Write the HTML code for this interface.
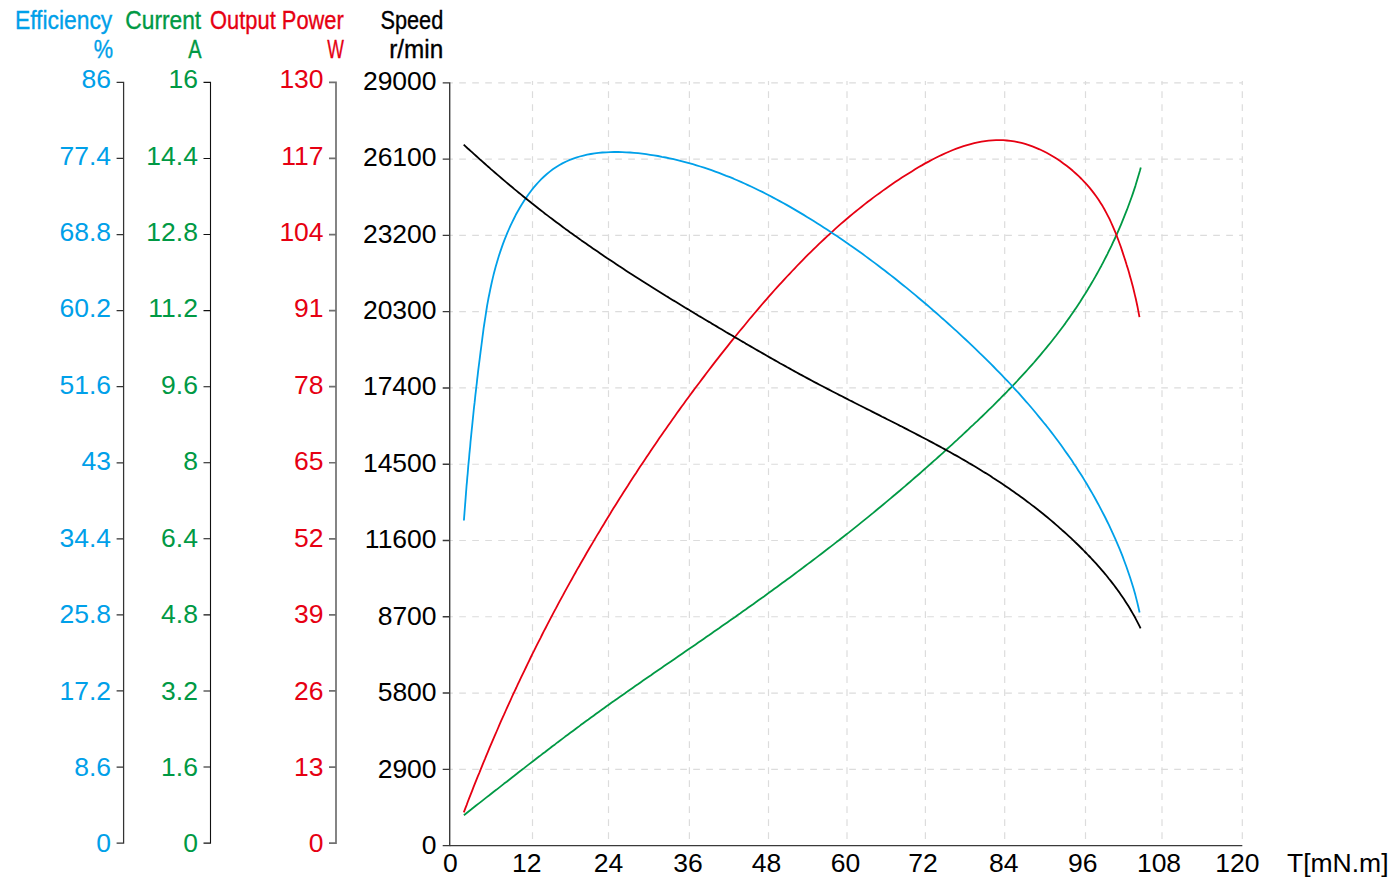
<!DOCTYPE html><html><head><meta charset="utf-8"><title>Motor characteristics</title><style>html,body{margin:0;padding:0;background:#fff;width:1396px;height:887px;overflow:hidden}svg{display:block}text{font-family:"Liberation Sans",sans-serif}</style></head><body>
<svg width="1396" height="887" viewBox="0 0 1396 887">
<path d="M446.2,769.33H1242.3 M446.2,693.05H1242.3 M446.2,616.77H1242.3 M446.2,540.50H1242.3 M446.2,464.23H1242.3 M446.2,387.95H1242.3 M446.2,311.67H1242.3 M446.2,235.40H1242.3 M446.2,159.12H1242.3 M446.2,82.85H1242.3" stroke="#dcdcdc" stroke-width="1.2" stroke-dasharray="6.7 6.3" fill="none"/>
<path d="M532.50,81.05V845.60 M608.50,81.05V845.60 M689.40,81.05V845.60 M768.50,81.05V845.60 M847.00,81.05V845.60 M925.40,81.05V845.60 M1004.70,81.05V845.60 M1085.50,81.05V845.60 M1162.00,81.05V845.60 M1242.30,81.05V845.60" stroke="#dcdcdc" stroke-width="1.2" stroke-dasharray="6.7 6.3" stroke-dashoffset="2.8" fill="none"/>
<rect x="440" y="70" width="9" height="790" fill="#fff"/>
<path d="M463.9,815.2 L466.4,813.2 L468.9,811.2 L471.4,809.3 L473.9,807.3 L476.4,805.3 L478.9,803.4 L481.5,801.4 L484.0,799.4 L486.5,797.4 L489.0,795.5 L491.5,793.5 L494.0,791.5 L496.6,789.6 L499.1,787.6 L501.6,785.6 L504.1,783.6 L506.7,781.7 L509.2,779.7 L511.7,777.7 L514.3,775.7 L516.8,773.8 L519.3,771.8 L521.9,769.8 L524.4,767.9 L526.9,765.9 L529.5,763.9 L532.0,762.0 L534.6,760.0 L537.1,758.0 L539.7,756.1 L542.2,754.1 L544.8,752.2 L547.3,750.2 L549.9,748.3 L552.4,746.3 L555.0,744.4 L557.5,742.4 L560.1,740.5 L562.6,738.6 L565.2,736.6 L567.8,734.7 L570.3,732.8 L572.9,730.9 L575.5,729.0 L578.1,727.1 L580.6,725.1 L583.2,723.2 L585.8,721.3 L588.4,719.5 L591.0,717.6 L593.6,715.7 L596.1,713.8 L598.7,711.9 L601.3,710.1 L603.9,708.2 L606.5,706.3 L609.1,704.5 L611.7,702.6 L614.3,700.8 L616.9,698.9 L619.6,697.1 L622.2,695.2 L624.8,693.4 L627.4,691.6 L630.0,689.7 L632.6,687.9 L635.2,686.1 L637.9,684.3 L640.5,682.4 L643.1,680.6 L645.7,678.8 L648.3,677.0 L651.0,675.2 L653.6,673.3 L656.2,671.5 L658.8,669.7 L661.5,667.9 L664.1,666.1 L666.7,664.3 L669.4,662.5 L672.0,660.7 L674.6,658.9 L677.3,657.1 L679.9,655.2 L682.5,653.4 L685.2,651.6 L687.8,649.8 L690.4,648.0 L693.1,646.2 L695.7,644.4 L698.3,642.6 L701.0,640.7 L703.6,638.9 L706.2,637.1 L708.9,635.3 L711.5,633.4 L714.1,631.6 L716.8,629.8 L719.4,628.0 L722.0,626.1 L724.6,624.3 L727.3,622.4 L729.9,620.6 L732.5,618.7 L735.2,616.9 L737.8,615.0 L740.4,613.2 L743.0,611.3 L745.7,609.5 L748.3,607.6 L750.9,605.7 L753.5,603.9 L756.1,602.0 L758.8,600.1 L761.4,598.2 L764.0,596.4 L766.6,594.5 L769.2,592.6 L771.8,590.7 L774.4,588.8 L777.0,586.9 L779.6,585.0 L782.2,583.1 L784.8,581.2 L787.4,579.3 L790.0,577.4 L792.6,575.5 L795.2,573.5 L797.7,571.6 L800.3,569.7 L802.9,567.8 L805.5,565.8 L808.0,563.9 L810.6,562.0 L813.2,560.0 L815.7,558.1 L818.3,556.1 L820.8,554.2 L823.4,552.2 L825.9,550.3 L828.5,548.3 L831.0,546.4 L833.6,544.4 L836.1,542.4 L838.6,540.5 L841.1,538.5 L843.7,536.5 L846.2,534.5 L848.7,532.6 L851.2,530.6 L853.7,528.6 L856.2,526.6 L858.7,524.6 L861.1,522.6 L863.6,520.6 L866.1,518.6 L868.6,516.6 L871.0,514.6 L873.5,512.6 L876.0,510.5 L878.4,508.5 L880.9,506.5 L883.3,504.5 L885.8,502.4 L888.2,500.4 L890.6,498.4 L893.1,496.3 L895.5,494.3 L897.9,492.2 L900.3,490.2 L902.7,488.1 L905.1,486.1 L907.5,484.0 L909.9,482.0 L912.3,479.9 L914.7,477.8 L917.1,475.8 L919.5,473.7 L921.8,471.6 L924.2,469.5 L926.6,467.4 L928.9,465.4 L931.3,463.3 L933.6,461.2 L936.0,459.1 L938.3,457.0 L940.7,454.9 L943.0,452.8 L945.3,450.7 L947.6,448.5 L950.0,446.4 L952.3,444.3 L954.6,442.2 L956.9,440.1 L959.2,437.9 L961.5,435.8 L963.8,433.7 L966.1,431.5 L968.4,429.4 L970.6,427.2 L972.9,425.1 L975.2,422.9 L977.5,420.8 L979.7,418.6 L982.0,416.5 L984.2,414.3 L986.5,412.1 L988.7,409.9 L990.9,407.8 L993.2,405.6 L995.4,403.4 L997.6,401.2 L999.8,399.0 L1002.0,396.7 L1004.2,394.5 L1006.4,392.3 L1008.5,390.0 L1010.7,387.8 L1012.9,385.5 L1015.0,383.3 L1017.2,381.0 L1019.3,378.7 L1021.4,376.4 L1023.5,374.1 L1025.6,371.8 L1027.7,369.5 L1029.8,367.2 L1031.9,364.8 L1034.0,362.5 L1036.0,360.1 L1038.1,357.7 L1040.1,355.3 L1042.1,352.9 L1044.1,350.5 L1046.1,348.1 L1048.1,345.7 L1050.1,343.2 L1052.1,340.7 L1054.0,338.3 L1056.0,335.8 L1057.9,333.3 L1059.8,330.7 L1061.7,328.2 L1063.6,325.7 L1065.5,323.1 L1067.3,320.5 L1069.2,317.9 L1071.0,315.3 L1072.8,312.7 L1074.6,310.0 L1076.4,307.4 L1078.2,304.7 L1080.0,302.0 L1081.7,299.3 L1083.4,296.5 L1085.2,293.8 L1086.9,291.1 L1088.5,288.3 L1090.2,285.5 L1091.8,282.7 L1093.5,279.9 L1095.1,277.1 L1096.7,274.3 L1098.3,271.4 L1099.8,268.6 L1101.4,265.7 L1102.9,262.8 L1104.4,259.9 L1105.9,257.0 L1107.4,254.1 L1108.8,251.2 L1110.2,248.3 L1111.7,245.4 L1113.0,242.4 L1114.4,239.5 L1115.8,236.5 L1117.1,233.6 L1118.4,230.6 L1119.7,227.6 L1121.0,224.6 L1122.2,221.7 L1123.4,218.7 L1124.6,215.7 L1125.8,212.7 L1127.0,209.7 L1128.1,206.7 L1129.2,203.7 L1130.3,200.7 L1131.4,197.7 L1132.5,194.6 L1133.5,191.6 L1134.5,188.6 L1135.5,185.6 L1136.4,182.6 L1137.3,179.6 L1138.2,176.5 L1139.1,173.5 L1140.0,170.5 L1140.8,167.5" stroke="#009944" stroke-width="1.80" fill="none" stroke-linejoin="round"/>
<path d="M463.8,812.3 L465.2,808.7 L466.6,805.1 L467.9,801.5 L469.3,797.9 L470.7,794.4 L472.1,790.8 L473.5,787.2 L474.9,783.7 L476.3,780.1 L477.7,776.6 L479.2,773.1 L480.6,769.6 L482.0,766.1 L483.4,762.6 L484.9,759.1 L486.3,755.6 L487.8,752.1 L489.2,748.7 L490.7,745.2 L492.1,741.8 L493.6,738.3 L495.1,734.9 L496.6,731.5 L498.1,728.0 L499.5,724.6 L501.0,721.2 L502.5,717.8 L504.1,714.4 L505.6,711.0 L507.1,707.6 L508.6,704.3 L510.2,700.9 L511.7,697.5 L513.2,694.2 L514.8,690.8 L516.4,687.5 L517.9,684.1 L519.5,680.8 L521.1,677.4 L522.7,674.1 L524.3,670.8 L525.9,667.5 L527.5,664.2 L529.1,660.8 L530.7,657.5 L532.3,654.2 L534.0,650.9 L535.6,647.6 L537.2,644.4 L538.9,641.1 L540.6,637.8 L542.2,634.5 L543.9,631.2 L545.6,628.0 L547.3,624.7 L549.0,621.4 L550.7,618.2 L552.4,614.9 L554.1,611.6 L555.9,608.4 L557.6,605.1 L559.3,601.9 L561.1,598.6 L562.9,595.4 L564.6,592.1 L566.4,588.9 L568.2,585.6 L570.0,582.4 L571.8,579.2 L573.6,575.9 L575.4,572.7 L577.2,569.4 L579.1,566.2 L580.9,563.0 L582.8,559.7 L584.7,556.5 L586.5,553.3 L588.4,550.0 L590.3,546.8 L592.2,543.6 L594.1,540.4 L596.0,537.1 L597.9,533.9 L599.9,530.7 L601.8,527.4 L603.8,524.2 L605.7,521.0 L607.7,517.8 L609.7,514.6 L611.6,511.3 L613.6,508.1 L615.6,504.9 L617.6,501.7 L619.6,498.5 L621.7,495.3 L623.7,492.1 L625.7,488.9 L627.8,485.7 L629.8,482.5 L631.9,479.3 L634.0,476.1 L636.1,472.9 L638.1,469.7 L640.2,466.6 L642.3,463.4 L644.5,460.2 L646.6,457.0 L648.7,453.9 L650.8,450.7 L653.0,447.5 L655.1,444.4 L657.3,441.2 L659.4,438.1 L661.6,434.9 L663.8,431.8 L666.0,428.7 L668.2,425.5 L670.4,422.4 L672.6,419.3 L674.8,416.2 L677.0,413.0 L679.3,409.9 L681.5,406.8 L683.8,403.7 L686.0,400.6 L688.3,397.5 L690.5,394.5 L692.8,391.4 L695.1,388.3 L697.4,385.2 L699.7,382.2 L702.0,379.1 L704.3,376.1 L706.6,373.0 L708.9,370.0 L711.3,366.9 L713.6,363.9 L715.9,360.9 L718.3,357.9 L720.6,354.9 L723.0,351.9 L725.4,348.9 L727.8,345.9 L730.1,342.9 L732.5,339.9 L734.9,337.0 L737.3,334.0 L739.7,331.0 L742.2,328.1 L744.6,325.2 L747.0,322.2 L749.4,319.3 L751.9,316.4 L754.3,313.5 L756.8,310.6 L759.3,307.7 L761.7,304.8 L764.2,301.9 L766.7,299.1 L769.2,296.2 L771.7,293.4 L774.2,290.5 L776.8,287.7 L779.3,284.9 L781.9,282.1 L784.4,279.3 L787.0,276.5 L789.6,273.8 L792.2,271.0 L794.8,268.3 L797.4,265.5 L800.0,262.8 L802.7,260.1 L805.3,257.4 L808.0,254.7 L810.7,252.1 L813.4,249.4 L816.1,246.8 L818.8,244.2 L821.5,241.6 L824.3,239.0 L827.1,236.4 L829.9,233.8 L832.6,231.3 L835.5,228.7 L838.3,226.2 L841.1,223.7 L844.0,221.2 L846.9,218.8 L849.8,216.3 L852.7,213.9 L855.6,211.5 L858.6,209.1 L861.6,206.7 L864.5,204.4 L867.5,202.0 L870.6,199.7 L873.6,197.4 L876.7,195.1 L879.8,192.9 L882.9,190.6 L886.0,188.4 L889.1,186.2 L892.3,184.0 L895.5,181.8 L898.7,179.7 L901.9,177.6 L905.2,175.5 L908.5,173.4 L911.8,171.4 L915.1,169.3 L918.4,167.3 L921.8,165.4 L925.2,163.4 L928.6,161.6 L932.0,159.7 L935.4,158.0 L938.9,156.2 L942.4,154.6 L945.9,153.0 L949.4,151.5 L952.9,150.0 L956.4,148.6 L960.0,147.4 L963.5,146.2 L967.1,145.1 L970.7,144.1 L974.2,143.2 L977.8,142.4 L981.5,141.7 L985.1,141.1 L988.7,140.7 L992.3,140.4 L996.0,140.2 L999.6,140.2 L1003.2,140.2 L1006.9,140.5 L1010.5,140.9 L1014.2,141.4 L1017.8,142.1 L1021.5,142.9 L1025.1,143.9 L1028.8,145.1 L1032.4,146.4 L1036.0,147.8 L1039.5,149.3 L1043.1,151.0 L1046.6,152.8 L1050.1,154.7 L1053.5,156.7 L1056.8,158.8 L1060.2,161.1 L1063.4,163.4 L1066.6,165.8 L1069.8,168.3 L1072.8,170.8 L1075.8,173.5 L1078.7,176.2 L1081.6,179.0 L1084.3,181.8 L1086.9,184.7 L1089.5,187.6 L1091.9,190.6 L1094.2,193.6 L1096.5,196.7 L1098.6,199.8 L1100.6,202.9 L1102.6,206.1 L1104.4,209.3 L1106.2,212.6 L1107.9,215.8 L1109.6,219.1 L1111.1,222.5 L1112.6,225.9 L1114.1,229.3 L1115.5,232.7 L1116.9,236.2 L1118.2,239.7 L1119.5,243.3 L1120.8,246.8 L1122.0,250.4 L1123.2,254.1 L1124.4,257.7 L1125.6,261.4 L1126.7,265.1 L1127.9,268.8 L1129.0,272.6 L1130.0,276.3 L1131.1,280.1 L1132.1,283.8 L1133.1,287.6 L1134.0,291.3 L1134.9,295.1 L1135.8,298.8 L1136.6,302.5 L1137.4,306.2 L1138.1,309.9 L1138.8,313.6 L1139.5,317.2" stroke="#e60012" stroke-width="1.80" fill="none" stroke-linejoin="round"/>
<path d="M463.9,520.5 L464.2,516.6 L464.5,512.7 L464.8,508.8 L465.1,504.9 L465.4,501.0 L465.7,497.1 L466.0,493.1 L466.3,489.2 L466.6,485.3 L467.0,481.4 L467.3,477.4 L467.7,473.5 L468.0,469.6 L468.3,465.6 L468.7,461.7 L469.1,457.8 L469.4,453.8 L469.8,449.9 L470.2,446.0 L470.5,442.0 L470.9,438.1 L471.3,434.1 L471.7,430.2 L472.1,426.3 L472.5,422.3 L472.9,418.4 L473.3,414.5 L473.7,410.5 L474.1,406.6 L474.6,402.7 L475.0,398.8 L475.4,394.8 L475.9,390.9 L476.3,387.0 L476.8,383.1 L477.2,379.1 L477.7,375.2 L478.1,371.3 L478.6,367.4 L479.1,363.5 L479.6,359.6 L480.1,355.7 L480.6,351.7 L481.1,347.8 L481.6,344.0 L482.1,340.1 L482.6,336.2 L483.1,332.3 L483.6,328.4 L484.2,324.5 L484.8,320.6 L485.4,316.8 L486.0,312.9 L486.6,309.0 L487.2,305.2 L487.9,301.3 L488.6,297.5 L489.4,293.7 L490.2,289.8 L491.0,286.0 L491.8,282.2 L492.7,278.4 L493.6,274.6 L494.6,270.8 L495.6,267.0 L496.7,263.2 L497.8,259.4 L499.0,255.6 L500.2,251.9 L501.5,248.1 L502.8,244.4 L504.2,240.6 L505.7,236.9 L507.2,233.2 L508.8,229.5 L510.4,225.8 L512.2,222.1 L514.0,218.5 L515.8,214.8 L517.8,211.3 L519.8,207.7 L521.9,204.2 L524.1,200.8 L526.3,197.5 L528.6,194.2 L531.0,191.0 L533.4,187.9 L536.0,184.9 L538.6,182.0 L541.3,179.2 L544.1,176.5 L546.9,174.0 L549.8,171.6 L552.8,169.3 L555.9,167.2 L559.1,165.2 L562.4,163.4 L565.7,161.7 L569.1,160.2 L572.6,158.9 L576.1,157.6 L579.7,156.5 L583.4,155.6 L587.1,154.7 L590.8,154.0 L594.6,153.4 L598.5,152.9 L602.3,152.5 L606.2,152.3 L610.2,152.1 L614.1,152.0 L618.1,152.0 L622.1,152.1 L626.1,152.3 L630.1,152.5 L634.1,152.8 L638.1,153.2 L642.1,153.7 L646.1,154.2 L650.1,154.8 L654.0,155.4 L658.0,156.0 L661.9,156.8 L665.8,157.5 L669.7,158.3 L673.6,159.2 L677.5,160.1 L681.3,161.1 L685.1,162.1 L689.0,163.1 L692.8,164.2 L696.5,165.3 L700.3,166.5 L704.1,167.7 L707.8,168.9 L711.5,170.2 L715.3,171.6 L719.0,172.9 L722.6,174.3 L726.3,175.8 L730.0,177.2 L733.6,178.7 L737.2,180.3 L740.9,181.9 L744.5,183.5 L748.0,185.1 L751.6,186.8 L755.2,188.5 L758.7,190.2 L762.3,191.9 L765.8,193.7 L769.3,195.5 L772.8,197.4 L776.3,199.2 L779.7,201.1 L783.2,203.0 L786.6,204.9 L790.1,206.9 L793.5,208.9 L796.9,210.9 L800.3,212.9 L803.7,214.9 L807.0,216.9 L810.4,219.0 L813.7,221.1 L817.1,223.2 L820.4,225.3 L823.7,227.4 L827.0,229.6 L830.3,231.7 L833.6,233.9 L836.9,236.1 L840.1,238.3 L843.4,240.5 L846.6,242.7 L849.8,245.0 L853.1,247.2 L856.3,249.5 L859.5,251.8 L862.7,254.1 L865.8,256.4 L869.0,258.7 L872.2,261.1 L875.3,263.4 L878.4,265.8 L881.6,268.2 L884.7,270.5 L887.8,273.0 L890.9,275.4 L894.0,277.8 L897.1,280.2 L900.1,282.7 L903.2,285.2 L906.3,287.6 L909.3,290.1 L912.3,292.6 L915.4,295.1 L918.4,297.7 L921.4,300.2 L924.4,302.8 L927.4,305.3 L930.4,307.9 L933.3,310.5 L936.3,313.0 L939.3,315.6 L942.2,318.3 L945.2,320.9 L948.1,323.5 L951.0,326.1 L954.0,328.8 L956.9,331.4 L959.8,334.1 L962.7,336.8 L965.6,339.5 L968.4,342.2 L971.3,344.9 L974.2,347.6 L977.0,350.3 L979.8,353.1 L982.7,355.8 L985.5,358.6 L988.3,361.4 L991.1,364.2 L993.9,367.0 L996.6,369.8 L999.4,372.6 L1002.1,375.4 L1004.8,378.3 L1007.6,381.2 L1010.3,384.0 L1012.9,386.9 L1015.6,389.8 L1018.3,392.7 L1020.9,395.7 L1023.5,398.6 L1026.1,401.6 L1028.7,404.5 L1031.3,407.5 L1033.8,410.5 L1036.3,413.5 L1038.8,416.6 L1041.3,419.6 L1043.8,422.7 L1046.3,425.7 L1048.7,428.8 L1051.1,431.9 L1053.5,435.0 L1055.9,438.2 L1058.2,441.3 L1060.6,444.5 L1062.9,447.7 L1065.1,450.9 L1067.4,454.1 L1069.6,457.3 L1071.9,460.6 L1074.0,463.9 L1076.2,467.1 L1078.3,470.4 L1080.5,473.8 L1082.6,477.1 L1084.6,480.4 L1086.7,483.8 L1088.7,487.2 L1090.6,490.5 L1092.6,493.9 L1094.5,497.3 L1096.4,500.8 L1098.3,504.2 L1100.1,507.6 L1101.9,511.1 L1103.7,514.5 L1105.5,518.0 L1107.2,521.5 L1108.9,524.9 L1110.5,528.4 L1112.1,531.9 L1113.7,535.4 L1115.3,538.9 L1116.8,542.4 L1118.3,545.9 L1119.8,549.4 L1121.2,552.9 L1122.6,556.4 L1123.9,560.0 L1125.2,563.5 L1126.5,567.0 L1127.7,570.5 L1128.9,574.0 L1130.1,577.5 L1131.2,581.0 L1132.3,584.6 L1133.4,588.1 L1134.4,591.6 L1135.4,595.1 L1136.3,598.6 L1137.2,602.1 L1138.0,605.5 L1138.8,609.0 L1139.6,612.5" stroke="#00a0e9" stroke-width="1.80" fill="none" stroke-linejoin="round"/>
<path d="M463.7,144.6 L465.8,146.6 L467.8,148.5 L469.9,150.3 L472.0,152.2 L474.1,154.1 L476.2,156.0 L478.3,157.9 L480.4,159.8 L482.5,161.6 L484.6,163.5 L486.7,165.4 L488.8,167.2 L490.9,169.1 L493.0,170.9 L495.1,172.7 L497.3,174.6 L499.4,176.4 L501.5,178.2 L503.7,180.1 L505.8,181.9 L508.0,183.7 L510.1,185.5 L512.3,187.3 L514.4,189.1 L516.6,190.9 L518.8,192.7 L520.9,194.4 L523.1,196.2 L525.3,198.0 L527.5,199.8 L529.7,201.5 L531.9,203.3 L534.1,205.0 L536.3,206.7 L538.5,208.5 L540.7,210.2 L542.9,211.9 L545.1,213.7 L547.4,215.4 L549.6,217.1 L551.9,218.8 L554.1,220.5 L556.4,222.2 L558.6,223.8 L560.9,225.5 L563.1,227.2 L565.4,228.9 L567.7,230.5 L569.9,232.2 L572.2,233.8 L574.5,235.5 L576.8,237.1 L579.1,238.7 L581.4,240.4 L583.7,242.0 L586.0,243.6 L588.3,245.2 L590.6,246.8 L592.9,248.4 L595.3,250.0 L597.6,251.6 L599.9,253.2 L602.2,254.8 L604.6,256.4 L606.9,258.0 L609.2,259.5 L611.6,261.1 L613.9,262.6 L616.3,264.2 L618.6,265.8 L621.0,267.3 L623.3,268.8 L625.7,270.4 L628.0,271.9 L630.4,273.5 L632.8,275.0 L635.1,276.5 L637.5,278.0 L639.9,279.5 L642.2,281.0 L644.6,282.5 L647.0,284.0 L649.4,285.5 L651.7,287.0 L654.1,288.5 L656.5,290.0 L658.9,291.5 L661.3,293.0 L663.7,294.5 L666.1,296.0 L668.5,297.4 L670.9,298.9 L673.3,300.4 L675.7,301.8 L678.1,303.3 L680.5,304.8 L682.9,306.2 L685.3,307.7 L687.7,309.1 L690.1,310.6 L692.5,312.0 L694.9,313.5 L697.3,314.9 L699.7,316.4 L702.1,317.8 L704.5,319.2 L707.0,320.7 L709.4,322.1 L711.8,323.6 L714.2,325.0 L716.6,326.4 L719.1,327.9 L721.5,329.3 L723.9,330.7 L726.3,332.2 L728.7,333.6 L731.2,335.0 L733.6,336.4 L736.0,337.9 L738.5,339.3 L740.9,340.7 L743.3,342.1 L745.7,343.6 L748.2,345.0 L750.6,346.4 L753.0,347.8 L755.5,349.2 L757.9,350.6 L760.4,352.0 L762.8,353.4 L765.2,354.8 L767.7,356.2 L770.1,357.6 L772.6,359.0 L775.0,360.4 L777.5,361.8 L779.9,363.2 L782.4,364.5 L784.9,365.9 L787.3,367.3 L789.8,368.6 L792.2,370.0 L794.7,371.4 L797.2,372.7 L799.6,374.1 L802.1,375.4 L804.6,376.7 L807.1,378.1 L809.5,379.4 L812.0,380.7 L814.5,382.1 L817.0,383.4 L819.5,384.7 L822.0,386.0 L824.5,387.3 L827.0,388.6 L829.5,389.9 L832.0,391.2 L834.5,392.5 L837.0,393.8 L839.5,395.1 L842.0,396.3 L844.5,397.6 L847.0,398.9 L849.5,400.2 L852.0,401.4 L854.5,402.7 L857.0,404.0 L859.5,405.3 L862.0,406.5 L864.5,407.8 L867.1,409.1 L869.6,410.3 L872.1,411.6 L874.6,412.9 L877.1,414.1 L879.6,415.4 L882.1,416.7 L884.6,417.9 L887.1,419.2 L889.7,420.5 L892.2,421.7 L894.7,423.0 L897.2,424.3 L899.7,425.6 L902.2,426.8 L904.7,428.1 L907.2,429.4 L909.7,430.7 L912.2,432.0 L914.7,433.3 L917.2,434.6 L919.7,435.9 L922.2,437.2 L924.7,438.5 L927.2,439.8 L929.6,441.1 L932.1,442.4 L934.6,443.8 L937.1,445.1 L939.5,446.4 L942.0,447.8 L944.5,449.1 L946.9,450.5 L949.4,451.8 L951.9,453.2 L954.3,454.6 L956.8,455.9 L959.2,457.3 L961.6,458.7 L964.1,460.1 L966.5,461.5 L968.9,463.0 L971.3,464.4 L973.7,465.8 L976.2,467.3 L978.6,468.7 L981.0,470.2 L983.3,471.7 L985.7,473.1 L988.1,474.6 L990.5,476.1 L992.8,477.7 L995.2,479.2 L997.5,480.7 L999.9,482.3 L1002.2,483.8 L1004.6,485.4 L1006.9,487.0 L1009.2,488.6 L1011.5,490.2 L1013.8,491.8 L1016.1,493.4 L1018.4,495.0 L1020.7,496.7 L1022.9,498.3 L1025.2,500.0 L1027.4,501.7 L1029.7,503.4 L1031.9,505.1 L1034.2,506.8 L1036.4,508.5 L1038.6,510.3 L1040.8,512.0 L1043.0,513.8 L1045.1,515.5 L1047.3,517.3 L1049.5,519.1 L1051.6,520.9 L1053.8,522.8 L1055.9,524.6 L1058.0,526.4 L1060.1,528.3 L1062.2,530.2 L1064.3,532.0 L1066.4,533.9 L1068.5,535.8 L1070.5,537.7 L1072.6,539.7 L1074.6,541.6 L1076.6,543.5 L1078.7,545.5 L1080.7,547.5 L1082.7,549.5 L1084.6,551.5 L1086.6,553.5 L1088.5,555.5 L1090.5,557.5 L1092.4,559.6 L1094.3,561.7 L1096.2,563.7 L1098.1,565.8 L1099.9,567.9 L1101.8,570.1 L1103.6,572.2 L1105.4,574.3 L1107.2,576.5 L1108.9,578.7 L1110.7,580.9 L1112.4,583.1 L1114.1,585.3 L1115.8,587.6 L1117.4,589.8 L1119.1,592.1 L1120.7,594.4 L1122.3,596.7 L1123.9,599.0 L1125.4,601.4 L1126.9,603.8 L1128.4,606.1 L1129.9,608.5 L1131.3,611.0 L1132.7,613.4 L1134.1,615.8 L1135.5,618.3 L1136.8,620.8 L1138.1,623.3 L1139.4,625.9 L1140.6,628.4" stroke="#000000" stroke-width="1.80" fill="none" stroke-linejoin="round"/>
<path d="M123.60,81.78V843.73 M116.60,82.40H123.60 M116.60,158.47H123.60 M116.60,234.54H123.60 M116.60,310.61H123.60 M116.60,386.68H123.60 M116.60,462.75H123.60 M116.60,538.82H123.60 M116.60,614.89H123.60 M116.60,690.96H123.60 M116.60,767.03H123.60 M116.60,843.10H123.60" stroke="#333" stroke-width="1.25" fill="none"/>
<path d="M210.50,81.85V843.65 M203.50,82.40H210.50 M203.50,158.47H210.50 M203.50,234.54H210.50 M203.50,310.61H210.50 M203.50,386.68H210.50 M203.50,462.75H210.50 M203.50,538.82H210.50 M203.50,614.89H210.50 M203.50,690.96H210.50 M203.50,767.03H210.50 M203.50,843.10H210.50" stroke="#111" stroke-width="1.10" fill="none"/>
<path d="M336.00,81.55V843.95 M329.00,82.40H336.00 M329.00,158.47H336.00 M329.00,234.54H336.00 M329.00,310.61H336.00 M329.00,386.68H336.00 M329.00,462.75H336.00 M329.00,538.82H336.00 M329.00,614.89H336.00 M329.00,690.96H336.00 M329.00,767.03H336.00 M329.00,843.10H336.00" stroke="#707070" stroke-width="1.70" fill="none"/>
<path d="M449.70,82.15V846.30 M442.70,82.85H449.70 M442.70,159.12H449.70 M442.70,235.40H449.70 M442.70,311.67H449.70 M442.70,387.95H449.70 M442.70,464.23H449.70 M442.70,540.50H449.70 M442.70,616.77H449.70 M442.70,693.05H449.70 M442.70,769.33H449.70 M442.70,845.60H449.70" stroke="#3a3a3a" stroke-width="1.40" fill="none"/>
<path d="M449.7,845.6H1242.3" stroke="#3a3a3a" stroke-width="1.4" fill="none"/>
<text x="111.10" y="88.25" text-anchor="end" fill="#00a0e9" font-size="26.50">86</text>
<text x="111.10" y="164.66" text-anchor="end" fill="#00a0e9" font-size="26.50">77.4</text>
<text x="111.10" y="241.07" text-anchor="end" fill="#00a0e9" font-size="26.50">68.8</text>
<text x="111.10" y="317.48" text-anchor="end" fill="#00a0e9" font-size="26.50">60.2</text>
<text x="111.10" y="393.89" text-anchor="end" fill="#00a0e9" font-size="26.50">51.6</text>
<text x="111.10" y="470.30" text-anchor="end" fill="#00a0e9" font-size="26.50">43</text>
<text x="111.10" y="546.71" text-anchor="end" fill="#00a0e9" font-size="26.50">34.4</text>
<text x="111.10" y="623.12" text-anchor="end" fill="#00a0e9" font-size="26.50">25.8</text>
<text x="111.10" y="699.53" text-anchor="end" fill="#00a0e9" font-size="26.50">17.2</text>
<text x="111.10" y="775.94" text-anchor="end" fill="#00a0e9" font-size="26.50">8.6</text>
<text x="111.10" y="852.35" text-anchor="end" fill="#00a0e9" font-size="26.50">0</text>
<text x="197.90" y="88.25" text-anchor="end" fill="#009944" font-size="26.50">16</text>
<text x="197.90" y="164.66" text-anchor="end" fill="#009944" font-size="26.50">14.4</text>
<text x="197.90" y="241.07" text-anchor="end" fill="#009944" font-size="26.50">12.8</text>
<text x="197.90" y="317.48" text-anchor="end" fill="#009944" font-size="26.50">11.2</text>
<text x="197.90" y="393.89" text-anchor="end" fill="#009944" font-size="26.50">9.6</text>
<text x="197.90" y="470.30" text-anchor="end" fill="#009944" font-size="26.50">8</text>
<text x="197.90" y="546.71" text-anchor="end" fill="#009944" font-size="26.50">6.4</text>
<text x="197.90" y="623.12" text-anchor="end" fill="#009944" font-size="26.50">4.8</text>
<text x="197.90" y="699.53" text-anchor="end" fill="#009944" font-size="26.50">3.2</text>
<text x="197.90" y="775.94" text-anchor="end" fill="#009944" font-size="26.50">1.6</text>
<text x="197.90" y="852.35" text-anchor="end" fill="#009944" font-size="26.50">0</text>
<text x="323.60" y="88.25" text-anchor="end" fill="#e60012" font-size="26.50">130</text>
<text x="323.60" y="164.66" text-anchor="end" fill="#e60012" font-size="26.50">117</text>
<text x="323.60" y="241.07" text-anchor="end" fill="#e60012" font-size="26.50">104</text>
<text x="323.60" y="317.48" text-anchor="end" fill="#e60012" font-size="26.50">91</text>
<text x="323.60" y="393.89" text-anchor="end" fill="#e60012" font-size="26.50">78</text>
<text x="323.60" y="470.30" text-anchor="end" fill="#e60012" font-size="26.50">65</text>
<text x="323.60" y="546.71" text-anchor="end" fill="#e60012" font-size="26.50">52</text>
<text x="323.60" y="623.12" text-anchor="end" fill="#e60012" font-size="26.50">39</text>
<text x="323.60" y="699.53" text-anchor="end" fill="#e60012" font-size="26.50">26</text>
<text x="323.60" y="775.94" text-anchor="end" fill="#e60012" font-size="26.50">13</text>
<text x="323.60" y="852.35" text-anchor="end" fill="#e60012" font-size="26.50">0</text>
<text x="436.60" y="89.70" text-anchor="end" fill="#000000" font-size="26.50">29000</text>
<text x="436.60" y="166.13" text-anchor="end" fill="#000000" font-size="26.50">26100</text>
<text x="436.60" y="242.57" text-anchor="end" fill="#000000" font-size="26.50">23200</text>
<text x="436.60" y="319.00" text-anchor="end" fill="#000000" font-size="26.50">20300</text>
<text x="436.60" y="395.44" text-anchor="end" fill="#000000" font-size="26.50">17400</text>
<text x="436.60" y="471.87" text-anchor="end" fill="#000000" font-size="26.50">14500</text>
<text x="436.60" y="548.31" text-anchor="end" fill="#000000" font-size="26.50">11600</text>
<text x="436.60" y="624.74" text-anchor="end" fill="#000000" font-size="26.50">8700</text>
<text x="436.60" y="701.18" text-anchor="end" fill="#000000" font-size="26.50">5800</text>
<text x="436.60" y="777.61" text-anchor="end" fill="#000000" font-size="26.50">2900</text>
<text x="436.60" y="854.05" text-anchor="end" fill="#000000" font-size="26.50">0</text>
<text x="450.40" y="872.15" text-anchor="middle" fill="#000" font-size="26.50">0</text>
<text x="526.70" y="872.15" text-anchor="middle" fill="#000" font-size="26.50">12</text>
<text x="608.60" y="872.15" text-anchor="middle" fill="#000" font-size="26.50">24</text>
<text x="688.10" y="872.15" text-anchor="middle" fill="#000" font-size="26.50">36</text>
<text x="766.50" y="872.15" text-anchor="middle" fill="#000" font-size="26.50">48</text>
<text x="845.40" y="872.15" text-anchor="middle" fill="#000" font-size="26.50">60</text>
<text x="923.10" y="872.15" text-anchor="middle" fill="#000" font-size="26.50">72</text>
<text x="1003.70" y="872.15" text-anchor="middle" fill="#000" font-size="26.50">84</text>
<text x="1082.80" y="872.15" text-anchor="middle" fill="#000" font-size="26.50">96</text>
<text x="1159.00" y="872.15" text-anchor="middle" fill="#000" font-size="26.50">108</text>
<text x="1237.40" y="872.15" text-anchor="middle" fill="#000" font-size="26.50">120</text>
<text x="1287.00" y="872.15" text-anchor="start" fill="#000" font-size="26.50">T[mN.m]</text>
<text transform="translate(112.30,28.80) scale(0.893,1)" text-anchor="end" fill="#00a0e9" stroke="#00a0e9" stroke-width="0.35" font-size="25.6">Efficiency</text>
<text transform="translate(113.10,57.60) scale(0.850,1)" text-anchor="end" fill="#00a0e9" stroke="#00a0e9" stroke-width="0.35" font-size="25.6">%</text>
<text transform="translate(201.10,28.80) scale(0.888,1)" text-anchor="end" fill="#009944" stroke="#009944" stroke-width="0.35" font-size="25.6">Current</text>
<text transform="translate(201.50,57.60) scale(0.780,1)" text-anchor="end" fill="#009944" stroke="#009944" stroke-width="0.35" font-size="25.6">A</text>
<text transform="translate(343.80,28.80) scale(0.855,1)" text-anchor="end" fill="#e60012" stroke="#e60012" stroke-width="0.35" font-size="25.6">Output Power</text>
<text transform="translate(343.80,57.60) scale(0.690,1)" text-anchor="end" fill="#e60012" stroke="#e60012" stroke-width="0.35" font-size="25.6">W</text>
<text transform="translate(443.20,28.80) scale(0.848,1)" text-anchor="end" fill="#000000" stroke="#000000" stroke-width="0.35" font-size="25.6">Speed</text>
<text transform="translate(443.20,57.60) scale(0.950,1)" text-anchor="end" fill="#000000" stroke="#000000" stroke-width="0.35" font-size="25.6">r/min</text>
</svg></body></html>
